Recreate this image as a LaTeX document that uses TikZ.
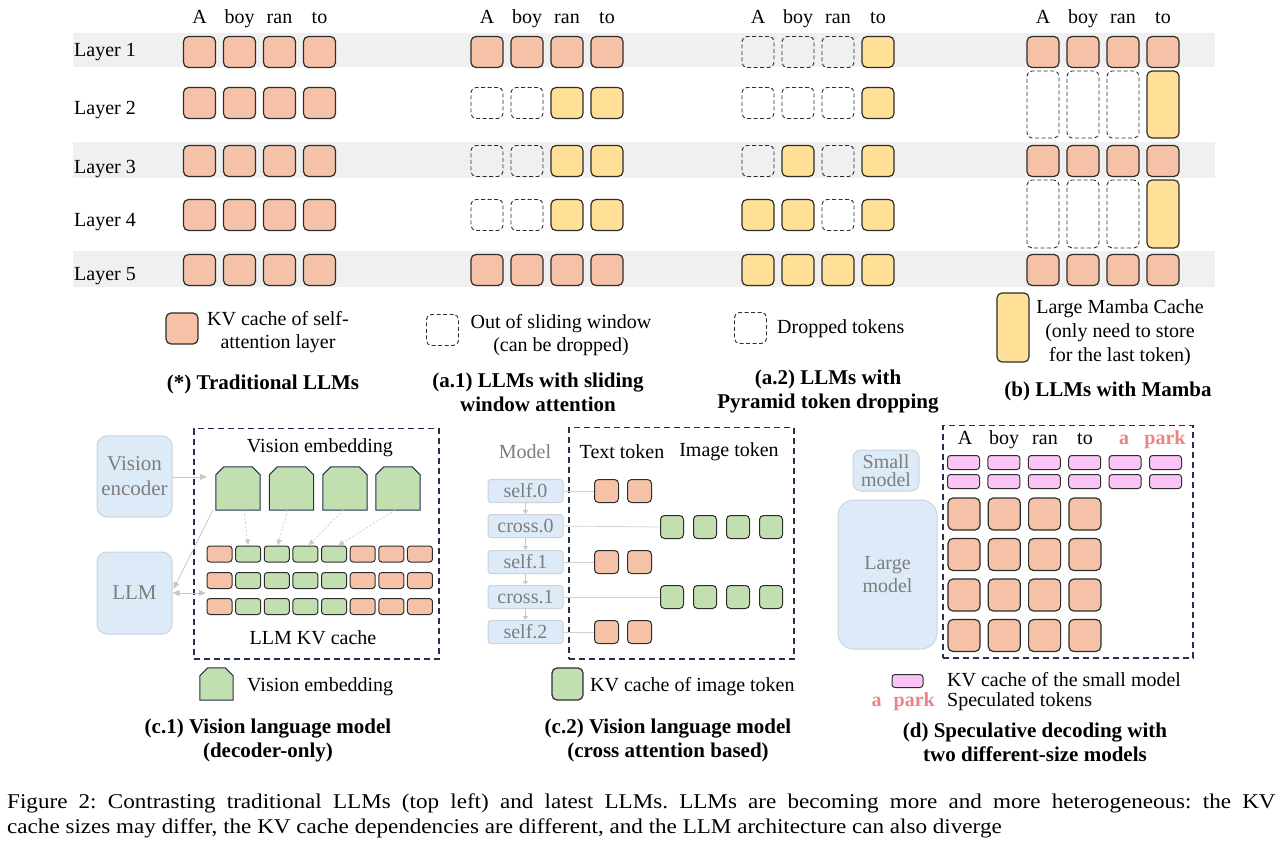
\documentclass[tikz,border=0pt]{standalone}
\usepackage{fontspec}
\setmainfont{Liberation Serif}
\usetikzlibrary{arrows.meta,calc}
\frenchspacing
\definecolor{peach}{RGB}{245,194,168}
\definecolor{myyellow}{RGB}{255,224,150}
\definecolor{mygreen}{RGB}{194,223,176}
\definecolor{mypink}{RGB}{250,196,247}
\definecolor{pinktext}{RGB}{240,130,130}
\definecolor{navy}{RGB}{35,48,78}
\definecolor{lblue}{RGB}{221,235,248}
\definecolor{lborder}{RGB}{205,210,218}
\definecolor{gtext}{RGB}{125,125,125}
\definecolor{band}{RGB}{240,240,240}
\definecolor{arrgray}{RGB}{200,200,200}
\definecolor{celledge}{RGB}{45,45,45}
\newcommand\toprows[3]{%
  \foreach \row [count=\r] in {#3} {%
    \pgfmathsetmacro\yy{{52,103,161,215,270}[\r-1]}%
    \foreach \t [count=\c] in \row {%
      \node[cell\t] (#2-\r-\c) at ({#1+40*(\c-1)},\yy) {};%
    }%
  }%
  \foreach \w [count=\c] in {A,boy,ran,to}
    \node[anchor=base] (#2-h\c) at ({#1+40*(\c-1)},24) {\w};%
}
\newcommand\embshape[1]{\draw[embdraw] (#1.south west) -- ($(#1.north west)+(0,8)$) -- ($(#1.north west)+(8,0)$) -- ($(#1.north east)+(-8,0)$) -- ($(#1.north east)+(0,8)$) -- (#1.south east) -- cycle;}
\begin{document}
\begin{tikzpicture}[x=1pt,y=-1pt,
  every node/.style={font=\fontsize{20}{23}\selectfont, inner sep=0pt},
  cell/.style={rectangle, rounded corners=5pt, line width=1.2pt, draw=celledge, minimum width=32pt, minimum height=31pt},
  cellp/.style={cell, fill=peach},
  celly/.style={cell, fill=myyellow},
  celld/.style={cell, line width=0.9pt, dash pattern=on 4pt off 2.5pt},
  ttl/.style={font=\fontsize{21}{24}\selectfont\bfseries, align=center},
  navybox/.style={draw=navy, line width=1.5pt, dash pattern=on 6pt off 4pt, anchor=north west},
  modelbox/.style={rectangle, fill=lblue, draw=lborder, line width=1pt, text=gtext, align=center},
  embbox/.style={rectangle, minimum width=44pt, minimum height=43pt},
  embdraw/.style={fill=mygreen, draw=navy, line width=1pt},
  gcell/.style={rectangle, rounded corners=3pt, line width=1pt, draw=celledge, minimum width=25pt, minimum height=16pt},
  gcellp/.style={gcell, fill=peach},
  gcellg/.style={gcell, fill=mygreen},
  scell/.style={rectangle, rounded corners=4pt, line width=1pt, draw=celledge, minimum width=24pt, minimum height=23pt},
  pcell/.style={rectangle, rounded corners=3pt, line width=1pt, draw=celledge, fill=mypink, minimum width=32pt, minimum height=14pt},
  garrow/.style={draw=arrgray, line width=0.8pt, -{Triangle[length=7pt,width=6pt,fill=arrgray]}},
  garrowd/.style={draw=arrgray, line width=0.7pt, dash pattern=on 2pt off 2pt, -{Triangle[length=6pt,width=5pt,fill=arrgray]}},
  sline/.style={draw=lborder, line width=0.8pt},
  pinkb/.style={text=pinktext, font=\fontsize{20}{23}\selectfont\bfseries},
  captxt/.style={anchor=base west, font=\fontsize{21}{25}\selectfont}
]
\useasboundingbox (0,0) rectangle (1288,858);
% bands
\fill[band] (73,33) rectangle (1215,67);
\fill[band] (73,142) rectangle (1215,178);
\fill[band] (73,251) rectangle (1215,287);
% layer labels
\foreach \yy [count=\i] in {57,115,174,227,281}
  \node[anchor=base west] (lay\i) at (74,\yy) {Layer \i};
% panels
\toprows{199.5}{s}{{p,p,p,p},{p,p,p,p},{p,p,p,p},{p,p,p,p},{p,p,p,p}}
\toprows{487}{a}{{p,p,p,p},{d,d,y,y},{d,d,y,y},{d,d,y,y},{p,p,p,p}}
\toprows{758}{b}{{d,d,d,y},{d,d,d,y},{d,y,d,y},{y,y,d,y},{y,y,y,y}}
% mamba panel
\foreach \w [count=\c] in {A,boy,ran,to}
  \node[anchor=base] (m-h\c) at ({1043+40*(\c-1)},24) {\w};
\foreach \r/\yy in {1/52,3/161,5/270}
  \foreach \c in {1,...,4}
    \node[cellp] (m-\r-\c) at ({1043+40*(\c-1)},\yy) {};
\foreach \r/\yy/\hh in {2/104.5/67,4/214/68} {
  \foreach \c in {1,2,3}
    \node[celld, minimum height=\hh pt] (m-\r-\c) at ({1043+40*(\c-1)},\yy) {};
  \node[celly, minimum height=\hh pt] (m-\r-4) at (1163,\yy) {};
}
% legends top
\node[cellp] (lg1) at (182,328.5) {};
\node[align=center] (lg1t) at (278,332) {KV cache of self-\\attention layer};
\node[celld] (lg2) at (442.5,330) {};
\node[align=center] (lg2t) at (561,335) {Out of sliding window\\(can be dropped)};
\node[celld] (lg3) at (750.5,328) {};
\node[anchor=west] (lg3t) at (777,329) {Dropped tokens};
\node[celly, minimum height=69pt] (lg4) at (1013,327.5) {};
\node[align=center, font=\fontsize{20}{24}\selectfont] (lg4t) at (1120,333) {Large Mamba Cache\\(only need to store\\for the last token)};
% titles top
\node[ttl] (t0) at (263,384) {(*) Traditional LLMs};
\node[ttl] (t1) at (538,392) {(a.1) LLMs with sliding\\window attention};
\node[ttl] (t2) at (828,392) {(a.2) LLMs with\\Pyramid token dropping};
\node[ttl] (t3) at (1108,391) {(b) LLMs with Mamba};
% ---------- (c.1)
\node[navybox, minimum width=245pt, minimum height=230pt] (c1box) at (193,428) {};
\node (c1title) at (320,448) {Vision embedding};
\node[modelbox, rounded corners=10pt, minimum width=75pt, minimum height=81pt, font=\fontsize{21}{25}\selectfont] (venc) at (134.5,476.5) {Vision\\encoder};
\node[modelbox, rounded corners=10pt, minimum width=75pt, minimum height=82pt, font=\fontsize{21}{25}\selectfont] (llm) at (134.5,593) {LLM};
\foreach \xx [count=\i] in {238,291.5,345,398} {
  \node[embbox] (e\i) at (\xx,488.5) {};
  \embshape{e\i}
}
\foreach \r/\yy in {1/554,2/580.5,3/606.5}
  \foreach \c/\k in {1/p,2/g,3/g,4/g,5/g,6/p,7/p,8/p}
    \node[gcell\k] (g-\r-\c) at ({219.5+28.64*(\c-1)},\yy) {};
\node (c1kv) at (313,638) {LLM KV cache};
\coordinate (c1a) at (207,477);
\coordinate (c1c) at (206,593);
\draw[garrow] (venc.east |- c1a) -- (c1a);
\draw[garrow] ($(e1.south west)+(-3,0)$) -- ($(llm.east)+(1,-4)$);
\draw[garrow, {Triangle[length=7pt,width=6pt,fill=arrgray]}-{Triangle[length=7pt,width=6pt,fill=arrgray]}] (llm.east) -- (c1c);
\draw[garrowd] ($(e1.south)+(6,0)$) -- (g-1-2.north);
\draw[garrowd] ($(e2.south)+(-4,0)$) -- ($(g-1-3.north)+(1,0)$);
\draw[garrowd] ($(e3.south)+(-2,0)$) -- ($(g-1-4.north)+(3,0)$);
\draw[garrowd] ($(e4.south)+(-3,0)$) -- ($(g-1-5.north)+(4,0)$);
\node[embbox, minimum width=33pt, minimum height=32pt] (elg) at (216.5,684) {};
\embshape{elg}
\node[anchor=west] (elgt) at (247,687) {Vision embedding};
\node[ttl] (t4) at (268,740) {(c.1) Vision language model\\(decoder-only)};
% ---------- (c.2)
\node[navybox, minimum width=225pt, minimum height=231pt] (c2box) at (568,427) {};
\node[text=gtext] (mlab) at (525,452) {Model};
\node (ttok) at (622,452) {Text token};
\node (itok) at (729,452) {Image token};
\foreach \nm/\lab/\yy in {m0/self.0/491,m1/cross.0/526,m2/self.1/562,m3/cross.1/597,m4/self.2/632}
  \node[modelbox, rounded corners=3pt, minimum width=75pt, minimum height=23pt] (\nm) at (525.5,\yy) {\lab};
\foreach \a/\b in {m0/m1,m1/m2,m2/m3,m3/m4}
  \draw[draw=arrgray, line width=0.8pt, -{Triangle[length=4pt,width=5pt,fill=arrgray]}] (\a.south) -- (\b.north);
\foreach \nm/\yy in {m0/491,m2/562,m4/632} {
  \node[scell, fill=peach] (\nm-p1) at (606.5,\yy) {};
  \node[scell, fill=peach] (\nm-p2) at (639.5,\yy) {};
  \draw[sline] (\nm.east) -- (\nm-p1.west);
}
\foreach \nm/\yy in {m1/527,m3/597} {
  \foreach \xx [count=\i] in {672,705,738,771}
    \node[scell, fill=mygreen, minimum width=23pt] (\nm-g\i) at (\xx,\yy) {};
  \draw[sline] (\nm.east) -- (\nm-g1.west);
}
\node[cell, fill=mygreen, minimum width=31pt, minimum height=32pt] (glg) at (567.5,684) {};
\node[anchor=west] (glgt) at (590,687) {KV cache of image token};
\node[ttl] (t5) at (668,740) {(c.2) Vision language model\\(cross attention based)};
% ---------- (d)
\node[navybox, minimum width=250pt, minimum height=232pt] (dbox) at (942,425) {};
\foreach \w/\xx [count=\c] in {A/965,boy/1004,ran/1045,to/1085}
  \node[anchor=base] (d-h\c) at (\xx,445) {\w};
\node[anchor=base, pinkb] (d-h5) at (1124,445) {a};
\node[anchor=base, pinkb] (d-h6) at (1165,445) {park};
\foreach \r/\yy in {1/462.5,2/481.5}
  \foreach \c in {1,...,6}
    \node[pcell] (dp-\r-\c) at ({963.5+40.4*(\c-1)},\yy) {};
\foreach \r/\yy in {1/514,2/554.5,3/595,4/635.5}
  \foreach \c in {1,...,4}
    \node[cellp, minimum height=32pt] (dk-\r-\c) at ({964+40.3*(\c-1)},\yy) {};
\node[modelbox, rounded corners=8pt, minimum width=66pt, minimum height=41pt, font=\fontsize{20}{18}\selectfont] (small) at (886,470.5) {Small\\model};
\node[modelbox, rounded corners=16pt, minimum width=99pt, minimum height=149pt, font=\fontsize{20}{23}\selectfont] (large) at (887.5,574.5) {Large\\model};
\node[pcell, minimum width=31pt, minimum height=13pt] (plg) at (907.5,681) {};
\node[anchor=west] (plgt) at (947,680) {KV cache of the small model};
\node[anchor=east, pinkb] (splg) at (935,702) {a\hspace{0.6em}park};
\node[anchor=west] (splgt) at (947,702) {Speculated tokens};
\node[ttl] (t6) at (1035,742) {(d) Speculative decoding with\\two different-size models};
% caption
\node[captxt] (cap1) at (7,808) {\scalebox{1.1}[1]{\makebox[1153pt][s]{Figure 2: Contrasting traditional LLMs (top left) and latest LLMs. LLMs are becoming more and more heterogeneous: the KV}}};
\node[captxt] (cap2) at (7,833) {\scalebox{1.1}[1]{cache sizes may differ, the KV cache dependencies are different, and the LLM architecture can also diverge}};
\end{tikzpicture}
\end{document}
